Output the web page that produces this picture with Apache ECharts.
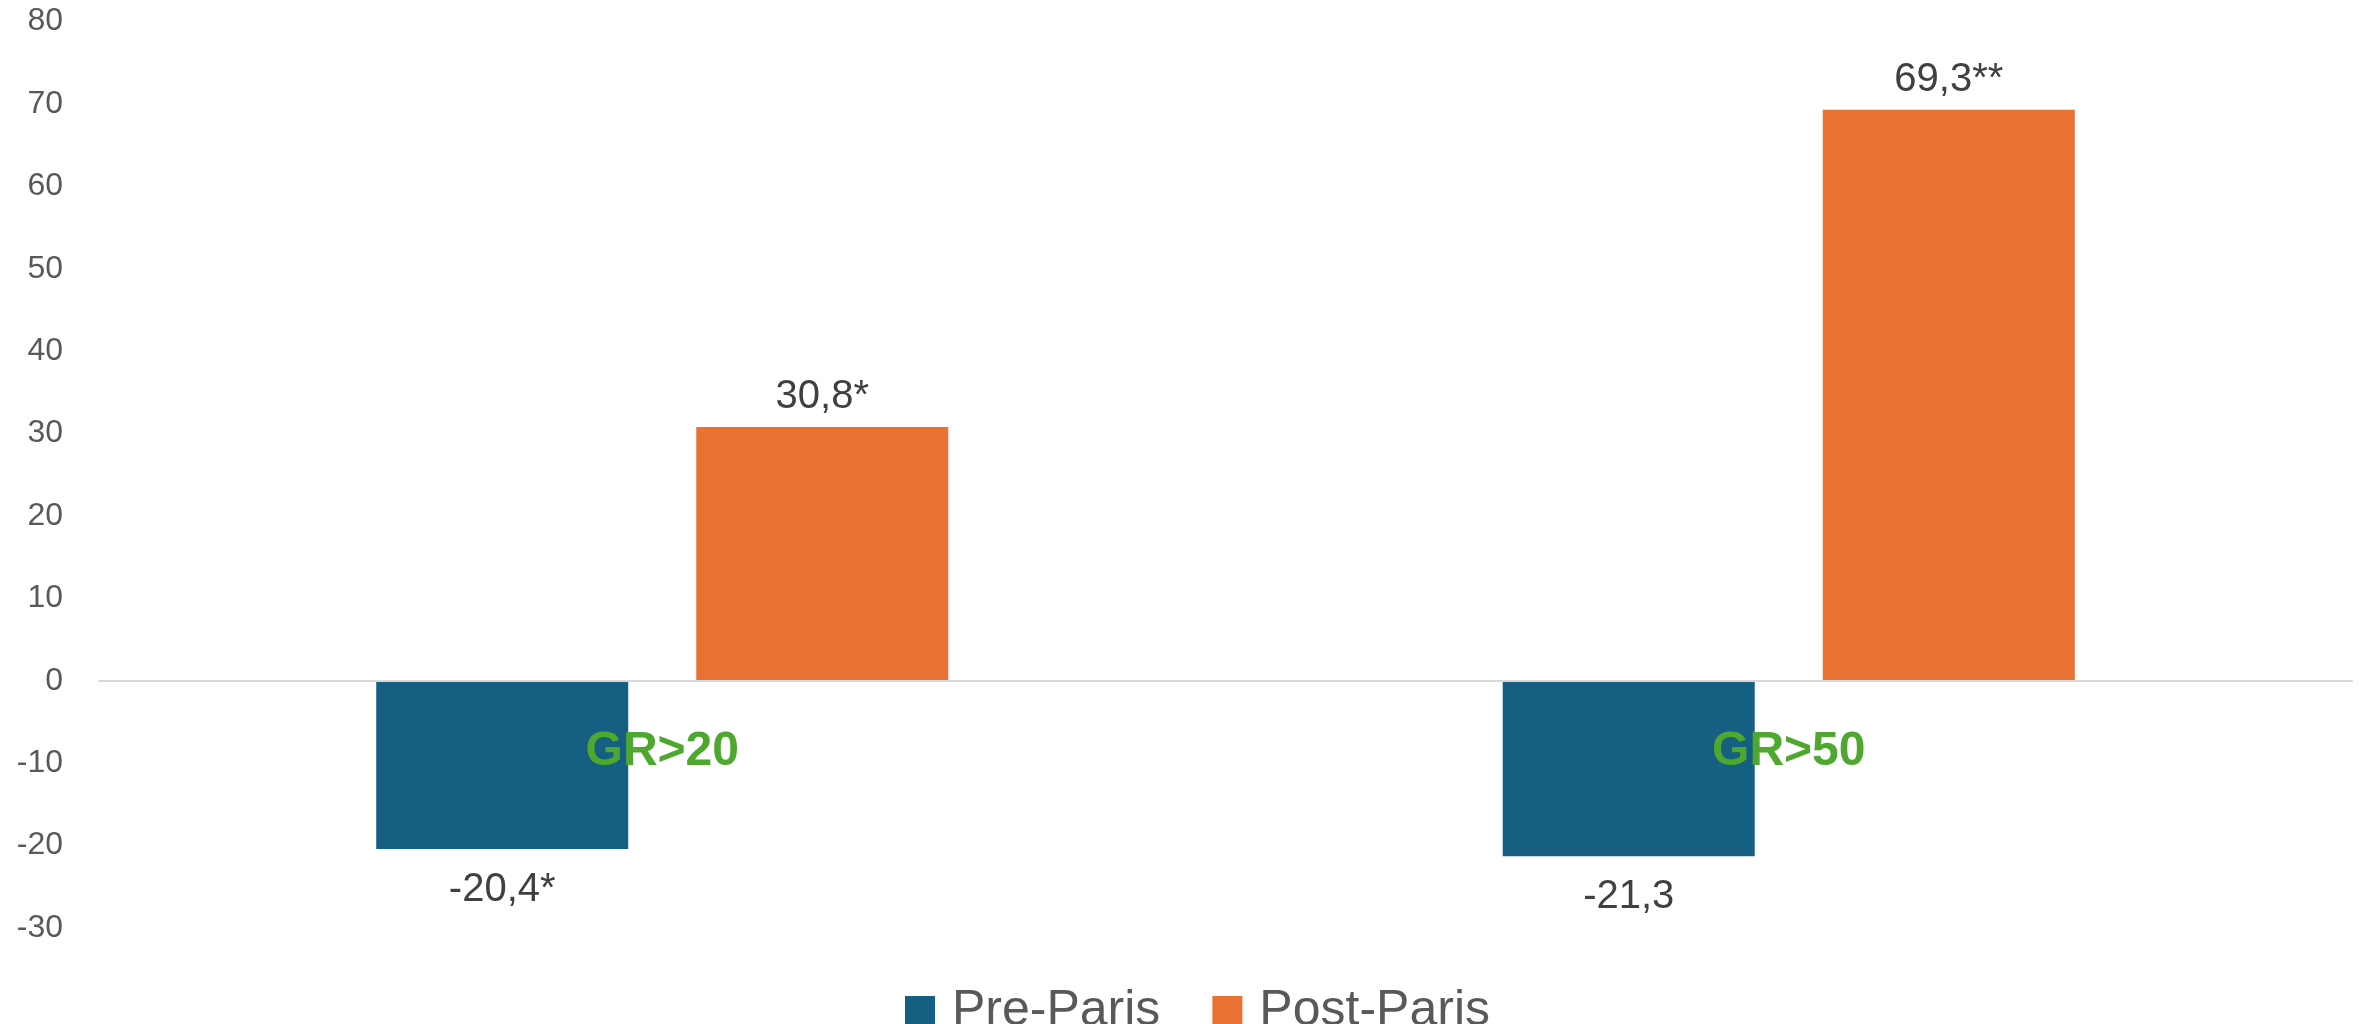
<!DOCTYPE html>
<html>
<head>
<meta charset="utf-8">
<script src="https://cdn.jsdelivr.net/npm/echarts@6/dist/echarts.min.js"></script>
<style>
  html, body { margin: 0; padding: 0; background: #ffffff; }
  #chart { width: 2361px; height: 1024px; }
</style>
</head>
<body>
<div id="chart"></div>
<script>
// Categories (glucose-rise thresholds) and the two periods compared
const categories = ['GR>20', 'GR>50'];
const seriesNames = ['Pre-Paris', 'Post-Paris'];

// Percentage change per category
const preParis = [-20.4, -21.3];
const postParis = [30.8, 69.3];

// Significance markers appended to each value label
const preStars = ['*', ''];
const postStars = ['*', '**'];

// Value-axis range
const yMin = -30;
const yMax = 80;
const yStep = 10;

const FONT = '"Liberation Sans", Arial, sans-serif';

function fmt(stars) {
  return function (p) {
    return p.value.toFixed(1).replace('.', ',') + stars[p.dataIndex];
  };
}

const chart = echarts.init(document.getElementById('chart'), null, { renderer: 'canvas' });

chart.setOption({
  animation: false,
  backgroundColor: '#ffffff',
  grid: { left: 99, right: 9, top: 21.5, bottom: 96, containLabel: false },
  legend: {
    data: seriesNames,
    left: 900,
    top: 981,
    icon: 'rect',
    itemWidth: 30,
    itemHeight: 30,
    itemGap: 52,
    textStyle: { fontFamily: FONT, fontSize: 50, color: '#595959', lineHeight: 46, padding: [0, 0, 0, 12] }
  },
  xAxis: {
    type: 'category',
    data: categories,
    axisLine: { onZero: true, lineStyle: { color: '#D9D9D9', width: 2 } },
    axisTick: { show: false },
    axisLabel: {
      // category names sit just below the zero line, over the bars
      margin: -200,
      fontFamily: FONT,
      fontSize: 48,
      fontWeight: 'bold',
      color: '#4EA72E'
    },
    z: 10
  },
  yAxis: {
    type: 'value',
    min: yMin,
    max: yMax,
    interval: yStep,
    axisLine: { show: false },
    axisTick: { show: false },
    splitLine: { show: false },
    axisLabel: { margin: 36, fontFamily: FONT, fontSize: 32, color: '#595959' }
  },
  series: [
    {
      name: seriesNames[0],
      type: 'bar',
      data: preParis,
      barWidth: 252,
      barGap: '27%',
      itemStyle: { color: '#156082' },
      label: {
        show: true,
        position: 'bottom',
        distance: 21,
        formatter: fmt(preStars),
        fontFamily: FONT,
        fontSize: 40,
        color: '#404040'
      }
    },
    {
      name: seriesNames[1],
      type: 'bar',
      data: postParis,
      barWidth: 252,
      barGap: '27%',
      itemStyle: { color: '#E97132' },
      label: {
        show: true,
        position: 'top',
        distance: 10,
        formatter: fmt(postStars),
        fontFamily: FONT,
        fontSize: 40,
        color: '#404040'
      }
    }
  ]
});
</script>
</body>
</html>
